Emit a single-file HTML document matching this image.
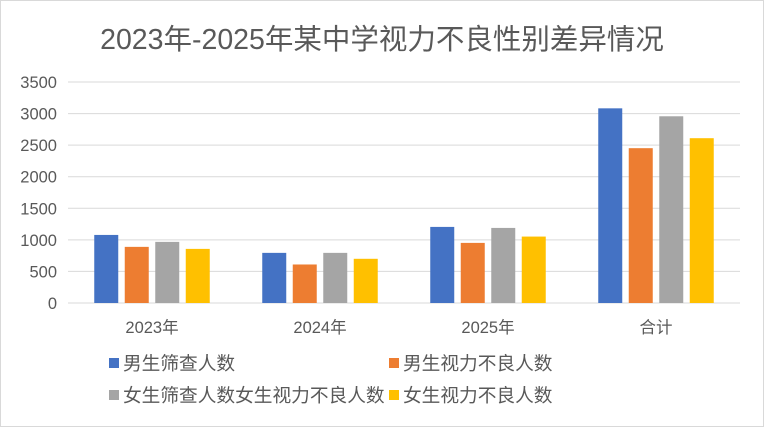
<!DOCTYPE html>
<html><head><meta charset="utf-8"><style>
body{margin:0;background:#fff;}
#c{position:relative;width:762px;height:425px;border:1px solid #d9d9d9;overflow:hidden;font-family:"Liberation Sans","Noto Sans CJK SC",sans-serif;}
</style></head><body>
<div id="c">
<svg id="s" width="762" height="425"></svg>
</div>
<script>
const categories=["2023年","2024年","2025年","合计"];
const maleScreened=[1078,794,1205,3083];
const maleBad=[889,610,952,2452];
const femaleScreened=[968,794,1189,2957];
const femaleBad=[857,700,1052,2610];
const yTicks=[0,500,1000,1500,2000,2500,3000,3500];
const seriesNames=["男生筛查人数","男生视力不良人数","女生筛查人数女生视力不良人数","女生视力不良人数"];
const colors=["#4472c4","#ed7d31","#a5a5a5","#ffc000"];
const series=[maleScreened,maleBad,femaleScreened,femaleBad];
const NS="http://www.w3.org/2000/svg";
const svg=document.getElementById('s');
const L=67,R=739,T=81,B=302,YMAX=3500;
const y=v=>B-(v/YMAX)*(B-T);
const bw=(R-L)/categories.length;
function el(t,a){const e=document.createElementNS(NS,t);for(const k in a)e.setAttribute(k,a[k]);svg.appendChild(e);return e;}
let t=el('text',{x:381,y:48,'text-anchor':'middle','font-size':28.5,fill:'#595959'});
t.textContent="2023年-2025年某中学视力不良性别差异情况";


yTicks.forEach(v=>{
  const g=el('line',{x1:L,x2:R,y1:y(v),y2:y(v),stroke:'#d9d9d9','stroke-width':1});
  
  
  const l=el('text',{x:56,y:y(v)+6,'text-anchor':'end','font-size':16.5,fill:'#595959'});
  l.textContent=v;
  
  
});
const barW=24,step=30.5;
categories.forEach((c,i)=>{
  const cx=L+bw*(i+0.5);
  series.forEach((s,j)=>{
    const x=cx+(j-1.5)*step-barW/2;
    const r=el('rect',{x:x,y:y(s[i]),width:barW,height:B-y(s[i]),fill:colors[j]});
    
    
  });
  const l=el('text',{x:cx,y:332,'text-anchor':'middle','font-size':16.5,fill:'#595959'});
  l.textContent=c;
  
  
});
const lp=[[108,368],[388,368],[108,400],[388,400]];
seriesNames.forEach((n,j)=>{
  const r=el('rect',{x:lp[j][0],y:lp[j][1]-11,width:10,height:10,fill:colors[j]});
  
  
  const tx=el('text',{x:lp[j][0]+14,y:lp[j][1]+1,'font-size':18.7,fill:'#595959'});
  tx.textContent=n;
  
  
});
</script>
</body></html>
